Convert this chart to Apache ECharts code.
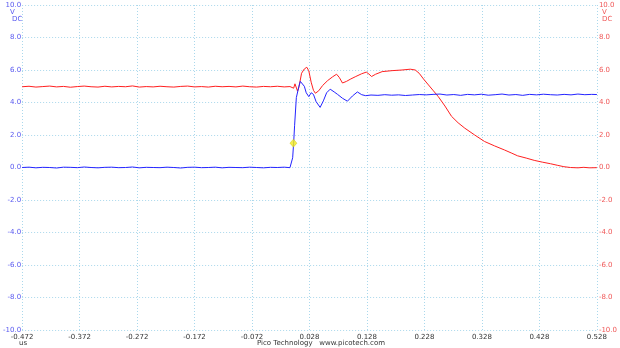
<!DOCTYPE html>
<html>
<head>
<meta charset="utf-8">
<script src="https://cdn.jsdelivr.net/npm/echarts@6/dist/echarts.min.js"></script>
<style>html,body{margin:0;padding:0;background:#fff}#c{width:620px;height:348px}</style>
</head>
<body>
<div id="c"></div>
<script>
// Time axis (us)
const timeMin = -0.472;
const timeMax = 0.528;
const timeStep = 0.1;
const voltTicks = [-10, -8, -6, -4, -2, 0, 2, 4, 6, 8, 10];

// Channel A (blue)
const chATime = [
 -0.472,-0.460,-0.448,-0.436,-0.424,-0.412,-0.400,-0.388,-0.376,-0.364,-0.352,-0.340,-0.328,-0.316,-0.304,-0.292,-0.280,-0.268,-0.256,-0.244,-0.232,-0.220,-0.208,-0.196,-0.184,-0.172,-0.160,-0.148,-0.136,-0.124,-0.112,-0.100,-0.088,-0.076,-0.064,-0.052,-0.040,-0.028,-0.016,-0.006,-0.003,
 -0.0013,0.0004,0.0021,0.0051,0.0096,0.0120,0.0154,0.0190,0.0223,0.0268,0.0309,0.0349,0.0395,0.0465,0.0521,0.0578,0.0640,0.0710,0.0768,0.0854,0.0940,0.1027,0.1113,0.1188,0.1258,
 0.135,0.147,0.159,0.171,0.183,0.195,0.207,0.219,0.231,0.243,0.255,0.267,0.279,0.291,0.303,0.315,0.327,0.339,0.351,0.363,0.375,0.387,0.399,0.411,0.423,0.435,0.447,0.459,0.471,0.483,0.495,0.507,0.519,0.528
];
const chAVolts = [
 0.00,0.02,-0.02,0.01,0.00,-0.03,0.02,0.01,-0.01,0.03,0.00,-0.02,0.01,0.02,-0.01,0.00,0.03,-0.02,0.01,0.00,-0.01,0.02,0.00,-0.03,0.01,0.02,-0.01,0.00,0.02,-0.02,0.01,0.00,-0.01,0.02,0.00,-0.02,0.01,0.00,0.02,-0.01,0.02,
 0.6,1.5,2.6,4.3,5.0,5.3,5.38,5.0,4.6,4.36,4.6,4.5,4.05,3.70,4.10,4.60,4.82,4.65,4.50,4.26,4.08,4.40,4.65,4.48,4.42,
 4.46,4.44,4.48,4.45,4.47,4.43,4.46,4.49,4.47,4.50,4.52,4.46,4.49,4.44,4.50,4.47,4.51,4.45,4.48,4.52,4.46,4.49,4.44,4.50,4.47,4.51,4.48,4.46,4.50,4.47,4.52,4.48,4.50,4.49
];

// Channel B (red)
const chBTime = [
 -0.472,-0.460,-0.448,-0.436,-0.424,-0.412,-0.400,-0.388,-0.376,-0.364,-0.352,-0.340,-0.328,-0.316,-0.304,-0.292,-0.280,-0.268,-0.256,-0.244,-0.232,-0.220,-0.208,-0.196,-0.184,-0.172,-0.160,-0.148,-0.136,-0.124,-0.112,-0.100,-0.088,-0.076,-0.064,-0.052,-0.040,-0.028,-0.016,-0.006,
 -0.003,0.0004,0.0027,0.0050,0.0072,0.0096,0.0142,0.0189,0.0233,0.0268,0.0309,0.0349,0.0383,0.0440,0.0509,0.0596,0.0682,0.0751,0.0797,0.0854,0.0923,0.0999,0.1085,0.1188,0.1268,0.1314,0.1360,0.1430,0.1544,0.1716,0.1889,0.2033,0.2120,0.2188,0.2263,0.2350,0.2436,0.2521,0.2637,0.2751,0.2866,0.2982,0.3154,0.3326,0.3499,0.3671,0.3800,0.3900,0.4050,0.4189,0.4330,0.4475,0.4600,0.4706,0.4820,0.4950,0.5050,0.5150,0.5280
];
const chBVolts = [
 4.97,5.00,4.95,4.98,5.01,4.96,4.99,4.94,4.98,5.01,4.97,4.95,5.00,4.96,4.99,4.97,5.02,4.95,4.98,4.96,5.00,4.97,4.95,4.99,5.01,4.96,4.98,4.95,5.00,4.97,4.99,4.96,5.01,4.97,4.95,4.99,4.97,5.00,4.96,4.98,
 4.95,4.88,5.15,5.05,4.70,4.95,5.80,6.06,6.17,5.95,5.25,4.75,4.57,4.72,5.05,5.35,5.58,5.74,5.55,5.20,5.30,5.45,5.60,5.77,5.87,5.75,5.60,5.74,5.90,5.96,6.00,6.05,6.00,5.80,5.45,5.08,4.72,4.36,3.78,3.15,2.75,2.42,2.00,1.60,1.33,1.08,0.88,0.72,0.58,0.44,0.33,0.23,0.13,0.05,0.00,-0.02,0.01,-0.02,-0.01
];

// Trigger marker
const triggerPoint = [0.0, 1.5];

const toAxis = t => t - timeMin;
const pairs = (ts, vs) => ts.map((t, i) => [toAxis(t), vs[i]]);

const chart = echarts.init(document.getElementById('c'), null, {renderer: 'canvas'});
const font = 'DejaVu Sans';
const gridColor = '#aad8ec';
chart.setOption({
  animation: false,
  backgroundColor: '#ffffff',
  grid: {left: 20, right: 20, top: 5, bottom: 18, containLabel: false},
  xAxis: {
    type: 'value', min: 0, max: timeMax - timeMin, interval: timeStep,
    axisLine: {show: false}, axisTick: {show: false},
    splitLine: {show: true, lineStyle: {color: gridColor, type: [1, 2], width: 1}},
    axisLabel: {
      color: '#333', fontSize: 7, fontFamily: font, margin: 4,
      formatter: v => (v + timeMin).toFixed(3)
    }
  },
  yAxis: [
    {
      type: 'value', min: voltTicks[0], max: voltTicks[voltTicks.length - 1], interval: 2, position: 'left',
      axisLine: {show: false}, axisTick: {show: false},
      splitLine: {show: true, lineStyle: {color: gridColor, type: [1, 2], width: 1}},
      axisLabel: {color: '#5858f0', fontSize: 7, fontFamily: font, margin: 1, formatter: v => v.toFixed(1)}
    },
    {
      type: 'value', min: voltTicks[0], max: voltTicks[voltTicks.length - 1], interval: 2, position: 'right',
      axisLine: {show: false}, axisTick: {show: false}, splitLine: {show: false},
      axisLabel: {color: '#f05858', fontSize: 7, fontFamily: font, margin: 2, formatter: v => v.toFixed(1)}
    }
  ],
  graphic: [
    {type: 'text', left: 10, top: 9, style: {text: 'V', fill: '#5858f0', font: '7px "DejaVu Sans"'}},
    {type: 'text', left: 12, top: 16, style: {text: 'DC', fill: '#5858f0', font: '7px "DejaVu Sans"'}},
    {type: 'text', left: 602, top: 9, style: {text: 'V', fill: '#f05858', font: '7px "DejaVu Sans"'}},
    {type: 'text', left: 602, top: 16, style: {text: 'DC', fill: '#f05858', font: '7px "DejaVu Sans"'}},
    {type: 'text', left: 19, top: 340, style: {text: 'us', fill: '#333', font: '7px "DejaVu Sans"'}},
    {type: 'text', left: 257, top: 340, style: {text: 'Pico Technology   www.picotech.com', fill: '#333', font: '7px "DejaVu Sans"'}}
  ],
  series: [
    {
      type: 'line', yAxisIndex: 1, data: pairs(chBTime, chBVolts), showSymbol: false,
      lineStyle: {color: '#ff2020', width: 1}, z: 2
    },
    {
      type: 'line', yAxisIndex: 0, data: pairs(chATime, chAVolts), showSymbol: false,
      lineStyle: {color: '#2424ff', width: 1}, z: 3
    },
    {
      type: 'scatter', yAxisIndex: 0, data: [[toAxis(triggerPoint[0]), triggerPoint[1]]],
      symbol: 'diamond', symbolSize: [7, 8],
      itemStyle: {color: '#f4ec1c', borderColor: '#c8b800', borderWidth: 0.5}, z: 5
    }
  ]
});
</script>
</body>
</html>
